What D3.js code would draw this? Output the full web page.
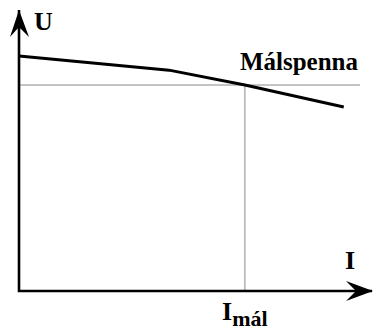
<!DOCTYPE html>
<html><head><meta charset="utf-8">
<script src="https://cdn.jsdelivr.net/npm/d3@7/dist/d3.min.js"></script>
<style>body{margin:0;background:#fff}svg{display:block}</style>
</head><body>
<svg id="c" width="374" height="332"></svg>
<script>
// characteristic curve U(I), arbitrary units 0..100
const currentI = [0, 42.5, 64, 92];
const voltageU = [83.6, 78.6, 73.3, 65.5];
const measI = 64;      // I_mál
const measU = 73.3;    // Málspenna
const refLineEndI = 96.6;
const labels = {u: "U", i: "I", meas: "Málspenna", imal: "I", imalSub: "mál"};

const svg = d3.select("#c");
const x = d3.scaleLinear().domain([0, 100]).range([19, 372]);
const y = d3.scaleLinear().domain([0, 100]).range([291, 10]);

// grey reference lines
svg.append("line").attr("x1", x(0)).attr("x2", x(refLineEndI))
  .attr("y1", y(measU)).attr("y2", y(measU)).attr("stroke", "#8a8a8a").attr("stroke-width", 1);
svg.append("line").attr("x1", x(measI)).attr("x2", x(measI))
  .attr("y1", y(measU)).attr("y2", y(0)).attr("stroke", "#8a8a8a").attr("stroke-width", 1);

// axes
svg.append("path").attr("d", `M${x(0)},${y(100)} L${x(0)},${y(0)} L${x(100)},${y(0)}`)
  .attr("fill", "none").attr("stroke", "#000").attr("stroke-width", 2.6).attr("stroke-linejoin", "miter");
// arrowheads
const ax = x(0), ay = y(100);
svg.append("path").attr("d", `M${ax},${ay} L${ax+10},${ay+27} L${ax},${ay+17} L${ax-9},${ay+27} Z`).attr("fill", "#000");
const bx = x(100), by = y(0);
svg.append("path").attr("d", `M${bx+1},${by} L${bx-26},${by-10} L${bx-16},${by} L${bx-26},${by+10} Z`).attr("fill", "#000");

// curve
const pts = currentI.map((d, i) => [d, voltageU[i]]);
svg.append("path").datum(pts)
  .attr("d", d3.line().x(d => x(d[0])).y(d => y(d[1])))
  .attr("fill", "none").attr("stroke", "#000").attr("stroke-width", 3);

// labels
function txt(xp, yp, size) {
  return svg.append("text").attr("x", xp).attr("y", yp)
    .style("font-family", "'Liberation Serif'").style("font-weight", "bold").style("font-size", size + "px");
}
txt(34, 30, 26).text(labels.u);
txt(345, 269, 26).text(labels.i);
txt(240, 70, 25).attr("textLength", 118).attr("lengthAdjust", "spacingAndGlyphs").text(labels.meas);
const t = txt(222, 320, 26);
t.append("tspan").text(labels.imal);
t.append("tspan").attr("dy", 6).style("font-size", "22px").text(labels.imalSub);
</script>
</body></html>
